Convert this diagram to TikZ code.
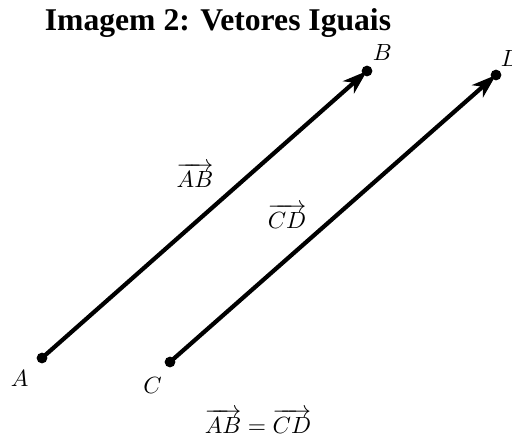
\documentclass[tikz,border=0pt]{standalone}
\usepackage{fontspec}
\newfontfamily\titlefont{Liberation Serif}
\usepackage{amsmath}
\usetikzlibrary{arrows.meta, positioning, calc}

\begin{document}
\begin{tikzpicture}[x=0.015cm, y=0.015cm]
  \useasboundingbox (0,0) rectangle (512,436);
  \tikzset{
    vetor/.style={line width=1.8pt, -{Stealth[length=10.5pt, width=7pt, inset=3pt]}},
  }

  % titolo
  \node[anchor=base] (titulo) at (218,405) {\titlefont\fontsize{13.5}{16}\selectfont\bfseries Imagem 2: Vetores Iguais};

  % pontos
  \coordinate (A) at (42,78);
  \coordinate (B) at (367,365);
  \coordinate (C) at (170,74);
  \coordinate (D) at (496,361);

  % vetores AB e CD
  \draw[vetor] (A) -- (B);
  \draw[vetor] (C) -- (D);
  \foreach \p in {A,B,C,D}
    \fill (\p) circle (2.3pt);

  % rotulos dos pontos
  \node[below left=1.75pt and 2.3pt of A] (lA) {$A$};
  \node[below left=3pt and 0pt of C] (lC) {$C$};
  \node[above right=1pt and -1pt of B] (lB) {$B$};
  \node[above right=0pt and -1.5pt of D] (lD) {$D$};

  % rotulos dos vetores
  \node (vAB) at (195,261) {$\overrightarrow{AB}$};
  \node (vCD) at (287,220) {$\overrightarrow{CD}$};
  \node (igual) at (258,15) {$\overrightarrow{AB} = \overrightarrow{CD}$};
\end{tikzpicture}
\end{document}
